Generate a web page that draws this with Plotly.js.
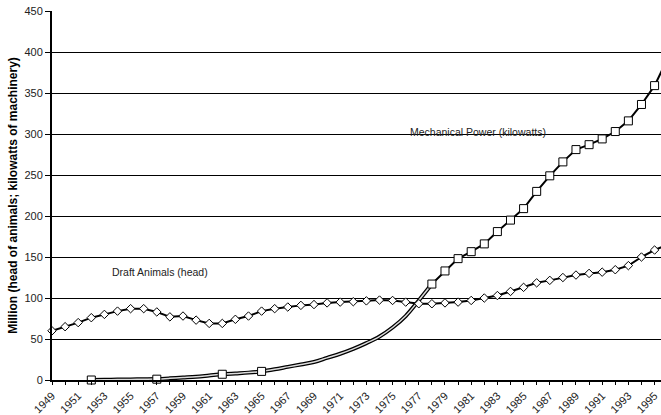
<!DOCTYPE html>
<html>
<head>
<meta charset="utf-8">
<script src="https://cdn.plot.ly/plotly-3.0.1.min.js"></script>
<style>
html,body{margin:0;padding:0;background:#fff;}
#chart{width:661px;height:415px;}
</style>
</head>
<body>
<div id="chart"></div>
<script>
// Draft animals (million head)
const animalYears = [1949,1950,1951,1952,1953,1954,1955,1956,1957,1958,1959,1960,1961,1962,1963,1964,1965,1966,1967,1968,1969,1970,1971,1972,1973,1974,1975,1976,1977,1978,1979,1980,1981,1982,1983,1984,1985,1986,1987,1988,1989,1990,1991,1992,1993,1994,1995,1996];
const animalValues = [60,65,70,76,80,84,87,87,83,77,78,73,69,69,74,78,84,87,89,91,92,94,95,95.5,96.5,97.5,97,95,93,93,94,95,97,100,103,108,113,118.5,121.5,125,128,130,131.5,134.5,139.5,150,158.5,165];

// Mechanical power, annual series (million kW)
const powerYears = [1978,1979,1980,1981,1982,1983,1984,1985,1986,1987,1988,1989,1990,1991,1992,1993,1994,1995,1996];
const powerValues = [117,133,148,156.5,166,181,195,209,230,249,266,281,287,294,303,316,336,359,392];

// Mechanical power, estimated early curve (double line)
const curveYears = [1952,1953,1954,1955,1956,1957,1958,1959,1960,1961,1962,1963,1964,1965,1966,1967,1968,1969,1970,1971,1972,1973,1974,1975,1976,1977,1978];
const curveValues = [0,0.3,0.5,0.7,0.9,1.2,2,3,4,5.5,7,8,9,10.5,13,16,19,22,27,32,38,45,53,64,78,97,117];

// Early benchmark observations
const benchYears = [1952,1957,1962,1965];
const benchValues = [0,1,7,10.5];

// Tick labels
const tickYears = animalYears.filter(y => y <= 1995);
const tickLabels = tickYears.map(y => ((y - 1949) % 2 === 0) ? String(y) : '');
const yTicks = [0,50,100,150,200,250,300,350,400,450];

const traces = [
  {x: curveYears, y: curveValues, mode: 'lines', line: {color: '#000', width: 4, shape: 'spline'}, hoverinfo: 'skip', cliponaxis: false},
  {x: curveYears, y: curveValues, mode: 'lines', line: {color: '#dcdcdc', width: 1.5, shape: 'spline'}, hoverinfo: 'skip', cliponaxis: false},
  {x: benchYears, y: benchValues, mode: 'markers', cliponaxis: false,
   marker: {symbol: 'square', size: 8, color: '#fff', line: {color: '#000', width: 1}}},
  {x: animalYears, y: animalValues, mode: 'lines+markers', line: {color: '#000', width: 2}, cliponaxis: false,
   marker: {symbol: 'diamond', size: 6.5, color: '#fff', line: {color: '#000', width: 1}}},
  {x: powerYears, y: powerValues, mode: 'lines+markers', line: {color: '#000', width: 2}, cliponaxis: false,
   marker: {symbol: 'square', size: 8, color: '#fff', line: {color: '#000', width: 1}}}
];

const xr = [1949, 1995.49];
const layout = {
  width: 661, height: 415,
  margin: {l: 52, r: 0, t: 11, b: 35, pad: 0},
  paper_bgcolor: '#fff', plot_bgcolor: '#fff',
  showlegend: false,
  font: {family: 'Liberation Sans, Arial, sans-serif', color: '#000'},
  xaxis: {
    range: xr, tickmode: 'array', tickvals: tickYears, ticktext: tickLabels,
    tickangle: -45, tickfont: {size: 11, color: '#222'}, ticks: 'outside', ticklen: 3, tickwidth: 1, tickcolor: '#000',
    showgrid: false, zeroline: false, showline: true, linecolor: '#000', linewidth: 2
  },
  xaxis2: {
    range: xr, overlaying: 'x', anchor: 'y', side: 'bottom', tickmode: 'array', tickvals: tickYears,
    showticklabels: false, ticks: 'inside', ticklen: 3, tickwidth: 1, tickcolor: '#000',
    showgrid: false, zeroline: false, showline: false
  },
  yaxis: {
    range: [0, 450], tickmode: 'array', tickvals: yTicks, tickfont: {size: 11, color: '#222'},
    ticks: 'outside', ticklen: 5, tickwidth: 1, tickcolor: '#000',
    showgrid: true, gridcolor: '#000', gridwidth: 1, zeroline: false,
    showline: true, linecolor: '#000', linewidth: 2,
    title: {text: 'Million (head of animals; kilowatts of machinery)', font: {size: 12, color: '#000', family: 'Liberation Sans, Arial, sans-serif', weight: 'bold'}, standoff: 4}
  },
  annotations: [
    {x: 1976.2, y: 302, xref: 'x', yref: 'y', xanchor: 'left', yanchor: 'middle', showarrow: false,
     text: 'Mechanical Power (kilowatts)', font: {size: 10.5, color: '#222'}},
    {x: 1953.4, y: 132, xref: 'x', yref: 'y', xanchor: 'left', yanchor: 'middle', showarrow: false,
     text: 'Draft Animals (head)', font: {size: 10.5, color: '#222'}}
  ]
};

Plotly.newPlot('chart', traces, layout, {staticPlot: true, displayModeBar: false});
</script>
</body>
</html>
